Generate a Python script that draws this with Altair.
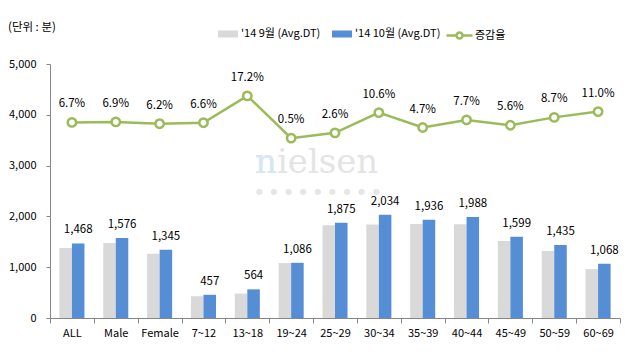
import altair as alt
import pandas as pd

cats = ["ALL", "Male", "Female", "7~12", "13~18", "19~24", "25~29",
        "30~34", "35~39", "40~44", "45~49", "50~59", "60~69"]
sep_vals = [1376, 1474, 1266, 429, 481, 1081, 1827, 1839, 1849, 1846, 1514, 1320, 962]
oct_vals = [1468, 1576, 1345, 457, 564, 1086, 1875, 2034, 1936, 1988, 1599, 1435, 1068]
rates = [6.7, 6.9, 6.2, 6.6, 17.2, 0.5, 2.6, 10.6, 4.7, 7.7, 5.6, 8.7, 11.0]
series_names = ["'14 9월 (Avg.DT)", "'14 10월 (Avg.DT)"]
rate_name = "증감율"
unit_text = "(단위 : 분)"
y_ticks = [0, 1000, 2000, 3000, 4000, 5000]

FONT = "Noto Sans CJK KR"
AXIS_GRAY = "#868686"
GREEN = "#9BBB59"

bars_df = pd.DataFrame({
    "cat": cats * 2,
    "series": [series_names[0]] * len(cats) + [series_names[1]] * len(cats),
    "value": sep_vals + oct_vals,
})
line_df = pd.DataFrame({"cat": cats, "rate": rates, "series": [rate_name] * len(cats)})

x_enc = alt.X(
    "cat:N", sort=cats,
    scale=alt.Scale(paddingInner=0, paddingOuter=0),
    axis=alt.Axis(title=None, labelAngle=0, tickBand="extent", domainColor=AXIS_GRAY,
                  tickColor=AXIS_GRAY, tickSize=5, labelPadding=4, labelFontSize=11,
                  labelColor="#000000", labelFont=FONT),
)
xoff_enc = alt.XOffset("series:N", sort=series_names,
                       scale=alt.Scale(domain=series_names, paddingInner=0, paddingOuter=0.75))
y_bar = alt.Y(
    "value:Q",
    scale=alt.Scale(domain=[0, 5000]),
    axis=alt.Axis(title=None, values=y_ticks, labelExpr="format(datum.value, ',')",
                  grid=False, domainColor=AXIS_GRAY,
                  tickColor=AXIS_GRAY, tickSize=4, labelPadding=10, labelFontSize=11,
                  labelColor="#000000", labelFont=FONT),
)

bar_legend = alt.Legend(
    title=None, orient="none", legendX=168, legendY=-40, direction="horizontal",
    symbolType="M-1,-0.35L1,-0.35L1,0.35L-1,0.35Z", symbolSize=400, symbolStrokeWidth=0,
    labelFont=FONT, labelFontSize=11, labelColor="#000000", labelOffset=3,
    columnPadding=11, padding=0, labelLimit=300,
)

bars = alt.Chart(bars_df).mark_bar().encode(
    x=x_enc,
    xOffset=xoff_enc,
    y=y_bar,
    color=alt.Color("series:N", sort=series_names,
                    scale=alt.Scale(domain=series_names, range=["#D9D9D9", "#558ED5"]),
                    legend=bar_legend),
)
bar_text = alt.Chart(bars_df).transform_filter(
    alt.datum.series == series_names[1]
).mark_text(font=FONT, fontSize=11.5, color="#000000", baseline="middle", dy=-13).encode(
    x=x_enc,
    xOffset=xoff_enc,
    y=y_bar,
    text=alt.Text("value:Q", format=","),
)
bar_group = alt.layer(bars, bar_text)

y_rate = alt.Y("rate:Q", scale=alt.Scale(domain=[-70.6, 29.8]), axis=None)
line_legend = alt.Legend(
    title=None, orient="none", legendX=395, legendY=-43,
    symbolType="M-1,0L-0.23,0M0.23,0L1,0M-0.23,0A0.23,0.23,0,1,1,0.23,0A0.23,0.23,0,1,1,-0.23,0",
    symbolSize=676, symbolStrokeWidth=2.5, symbolFillColor="white", symbolStrokeColor=GREEN,
    labelFont=FONT, labelFontSize=11, labelColor="#000000", labelOffset=1, padding=0,
)
line = alt.Chart(line_df).mark_line(strokeWidth=2.5).encode(
    x=alt.X("cat:N", sort=cats),
    y=y_rate,
    color=alt.Color("series:N", scale=alt.Scale(domain=[rate_name], range=[GREEN]),
                    legend=line_legend),
)
points = alt.Chart(line_df).mark_point(
    filled=True, fill="white", stroke=GREEN, strokeWidth=2.5, size=70, opacity=1
).encode(x=alt.X("cat:N", sort=cats), y=y_rate)
rate_text = alt.Chart(line_df).transform_calculate(
    label="format(datum.rate, '.1f') + '%'"
).mark_text(font=FONT, fontSize=11.5, color="#000000", baseline="middle", dy=-18).encode(
    x=alt.X("cat:N", sort=cats), y=y_rate, text="label:N"
)
line_group = alt.layer(line, points, rate_text)

NB = "\u00a0\u00a0\u00a0"
wm_df = pd.DataFrame({"word": ["nielsen"], "first": ["n"],
                      "dots": [NB.join(["●"] * 9)], "unit": [unit_text]})
wm_word = alt.Chart(wm_df).mark_text(
    font="DejaVu Serif", fontSize=34, color="#E4E4E4", align="left", baseline="alphabetic"
).encode(x=alt.value(205), y=alt.value(109), text="word:N")
wm_first = alt.Chart(wm_df).mark_text(
    font="DejaVu Serif", fontSize=34, color="#D3E8F3", align="left", baseline="alphabetic"
).encode(x=alt.value(205), y=alt.value(109), text="first:N")
wm_dots = alt.Chart(wm_df).mark_text(
    font="DejaVu Sans", fontSize=8, color="#E6E6E6", align="left", baseline="middle"
).encode(x=alt.value(206), y=alt.value(128), text="dots:N")
unit_label = alt.Chart(wm_df).mark_text(
    font=FONT, fontSize=11.5, color="#000000", align="left", baseline="middle"
).encode(x=alt.value(-42), y=alt.value(-36), text="unit:N")

chart = alt.layer(wm_word, wm_first, wm_dots, unit_label, bar_group, line_group).resolve_scale(
    y="independent", color="independent"
).properties(
    width=570, height=254,
    autosize=alt.AutoSizeParams(type="none"),
    padding={"left": 42, "top": 56, "right": 2, "bottom": 34},
    background="white",
).configure_view(stroke=None)

chart.save("out.html", embed_options={"renderer": "svg", "actions": False})
